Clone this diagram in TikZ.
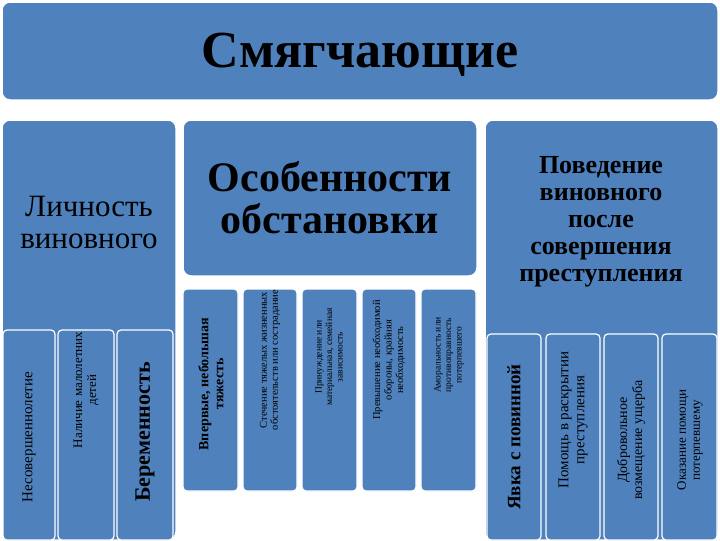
\documentclass[tikz,border=0pt]{standalone}
\usepackage{fontspec}
\setmainfont{Liberation Serif}
\definecolor{bx}{HTML}{4F81BD}
\begin{document}
\begin{tikzpicture}[x=1pt,y=-1pt,
  box/.style={fill=bx,draw=white,line width=1.5pt,rounded corners=8pt},
  col/.style={fill=bx,draw=white,line width=1.2pt,rounded corners=4pt},
  vt/.style={rotate=90,align=center,inner sep=0pt}]
\fill[white] (0,0) rectangle (720,540);
\draw[box] (2,2) rectangle (718,100);
\node (t) at (360,55) {\fontsize{52}{56}\selectfont\bfseries Смягчающие};
% left
\draw[box] (2,120) rectangle (176,540);
\node[align=center,font=\fontsize{31}{32}\selectfont] (l) at (89,222) {Личность\\виновного};
\draw[col] (3,330) rectangle (55,540);
\draw[col] (58,330) rectangle (114,540);
\draw[col] (117,330) rectangle (173,540);
\node[vt,font=\fontsize{15}{16}\selectfont] (l1) at (29,437) {Несовершеннолетие};
\node[vt,font=\fontsize{13}{14}\selectfont] (l2) at (86,390) {Наличие малолетних\\детей};
\node[vt,font=\fontsize{22}{23}\selectfont\bfseries] (l3) at (145,432) {Беременность};
% middle
\draw[box] (183,120) rectangle (477,276);
\node[align=center,font=\fontsize{42}{42}\selectfont\bfseries] (m) at (330,198) {Особенности\\обстановки};
\draw[col] (183,289) rectangle (238,491);
\draw[col] (243,289) rectangle (297,491);
\draw[col] (302,289) rectangle (357,491);
\draw[col] (362,289) rectangle (416,491);
\draw[col] (421,289) rectangle (476,491);
\node[vt,font=\fontsize{14}{15}\selectfont\bfseries] (m1) at (211,384) {Впервые, небольшая\\тяжесть};
\node[vt,font=\fontsize{10.5}{11}\selectfont] (m2) at (270,360) {Стечение тяжелых жизненных\\обстоятельств или сострадание};
\node[vt,font=\fontsize{9.5}{10.5}\selectfont] (m3) at (329,357) {Принуждение или\\материальная, семейная\\зависимость};
\node[vt,font=\fontsize{10.5}{11.5}\selectfont] (m4) at (389,360) {Превышение необходимой\\обороны, крайняя\\необходимость};
\node[vt,font=\fontsize{9.5}{10.5}\selectfont] (m5) at (449,355) {Аморальность или\\противоправность\\потерпевшего};
% right
\draw[box] (485,120) rectangle (718,540);
\node[align=center,font=\fontsize{26}{27}\selectfont\bfseries] (r) at (601,222) {Поведение\\виновного\\после\\совершения\\преступления};
\draw[col] (487,334) rectangle (541,540);
\draw[col] (546,334) rectangle (600,540);
\draw[col] (604,334) rectangle (658,540);
\draw[col] (662,334) rectangle (717,540);
\node[vt,font=\fontsize{19}{20}\selectfont\bfseries] (r1) at (514,437) {Явка с повинной};
\node[vt,font=\fontsize{15}{16}\selectfont] (r2) at (573,420) {Помощь в раскрытии\\преступления};
\node[vt,font=\fontsize{14}{15}\selectfont] (r3) at (631,440) {Добровольное\\возмещение ущерба};
\node[vt,font=\fontsize{13}{14}\selectfont] (r4) at (690,440) {Оказание помощи\\потерпевшему};
\end{tikzpicture}
\end{document}
